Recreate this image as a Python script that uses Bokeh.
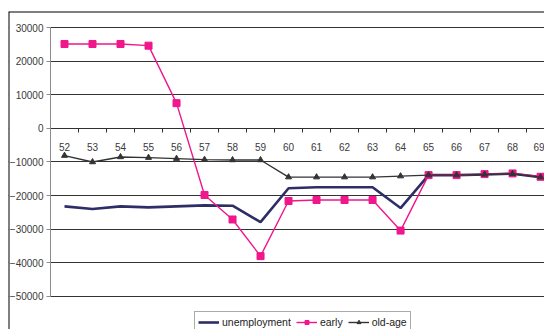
from bokeh.plotting import figure
from bokeh.models import (LinearAxis, FixedTicker, BasicTickFormatter, Range1d,
                          Legend, LegendItem, BoxAnnotation, Span)
from bokeh.embed import file_html
from bokeh.resources import INLINE

ages = ["52", "53", "54", "55", "56", "57", "58", "59", "60", "61", "62", "63",
        "64", "65", "66", "67", "68", "69"]
unemployment = [-23200, -24000, -23200, -23500, -23200, -22900, -23000, -27900,
                -17800, -17500, -17500, -17500, -23700, -13900, -13900, -13700,
                -13500, -14500]
early = [25100, 25100, 25100, 24600, 7500, -19800, -27100, -38000, -21600,
         -21300, -21300, -21300, -30400, -13900, -13900, -13600, -13400, -14400]
old_age = [-8100, -10000, -8500, -8700, -9000, -9300, -9400, -9400, -14500,
           -14500, -14500, -14500, -14200, -13900, -13900, -13700, -13500, -14500]
y_ticks = [30000, 20000, 10000, 0, -10000, -20000, -30000, -40000, -50000]

xs = list(range(len(ages)))
FONT = "Liberation Sans"

X0, X1 = -0.5, 17.14          # plot-area extent (categories)
Y0, Y1 = -50000, 30000        # value axis extent

p = figure(width=544, height=329, output_backend="svg", toolbar_location=None,
           x_range=Range1d(-2.0, X1), y_range=Range1d(-59820, 34760),
           min_border_left=8, min_border_right=0, min_border_top=11,
           min_border_bottom=0, x_axis_location=None, y_axis_location=None,
           outline_line_color=None, background_fill_color="white",
           border_fill_color="white")

# grid
p.xgrid.visible = False
p.ygrid.ticker = FixedTicker(ticks=y_ticks)
p.ygrid.grid_line_color = "#333333"
p.ygrid.grid_line_width = 1

# white cover left of the plot area (hides grid there)
cover = BoxAnnotation(right=X0, fill_color="white", fill_alpha=1,
                      line_color=None, level="underlay")
p.add_layout(cover)

# y axis
yax = LinearAxis(ticker=FixedTicker(ticks=y_ticks),
                 formatter=BasicTickFormatter(use_scientific=False),
                 fixed_location=X0, bounds=(Y0, Y1))
yax.axis_line_color = "#8c8c8c"
yax.major_tick_line_color = "#8c8c8c"
yax.major_tick_out = 4
yax.major_tick_in = 0
yax.minor_tick_line_color = None
yax.major_label_text_font = FONT
yax.major_label_text_font_size = "10px"
yax.major_label_text_color = "#3a3a3a"
yax.major_label_standoff = 3
p.add_layout(yax, "left")

# x axis labels at category centres, fixed at 0
xlab = LinearAxis(ticker=FixedTicker(ticks=xs),
                  major_label_overrides={i: a for i, a in enumerate(ages)},
                  fixed_location=0, bounds=(X0, X1))
xlab.axis_line_color = "#303030"
xlab.major_tick_line_color = None
xlab.minor_tick_line_color = None
xlab.major_label_text_font = FONT
xlab.major_label_text_font_size = "10px"
xlab.major_label_text_color = "#3a3a3a"
xlab.major_label_standoff = 9
p.add_layout(xlab, "below")

# x axis tick marks at category boundaries
xtk = LinearAxis(ticker=FixedTicker(ticks=[i + 0.5 for i in xs]),
                 fixed_location=0, bounds=(X0, X1))
xtk.axis_line_color = "#303030"
xtk.major_tick_line_color = "#303030"
xtk.major_tick_in = 4
xtk.major_tick_out = 0
xtk.minor_tick_line_color = None
xtk.major_label_text_font_size = "0px"
xtk.major_label_text_color = None
p.add_layout(xtk, "above")

r_u = p.line(xs, unemployment, line_color="#2e2e66", line_width=2.6)
r_e = p.line(xs, early, line_color="#f0168c", line_width=1.4)
s_e = p.scatter(xs, early, marker="square", size=7, fill_color="#f0168c",
                line_color="#f0168c")
r_o = p.line(xs, old_age, line_color="#333333", line_width=1.4)
s_o = p.scatter(xs, old_age, marker="triangle", size=6, fill_color="#333333",
                line_color="#333333")

legend = Legend(items=[LegendItem(label="unemployment", renderers=[r_u]),
                       LegendItem(label="early", renderers=[r_e, s_e]),
                       LegendItem(label="old-age", renderers=[r_o, s_o])],
                orientation="horizontal", location=(186, -4),
                label_text_font=FONT, label_text_font_size="10.5px",
                label_text_color="#222222", border_line_color="#555555",
                glyph_width=21, glyph_height=10, label_standoff=3, spacing=5,
                padding=3, margin=0, label_height=14,
                background_fill_color="white", background_fill_alpha=1)
p.add_layout(legend, "center")

# outer chart border (left and top)
p.add_layout(Span(location=-2.0, dimension="height", line_color="black",
                  line_width=2))
p.add_layout(Span(location=34760, dimension="width", line_color="black",
                  line_width=2))

open("out.html", "w").write(file_html(p, INLINE))
